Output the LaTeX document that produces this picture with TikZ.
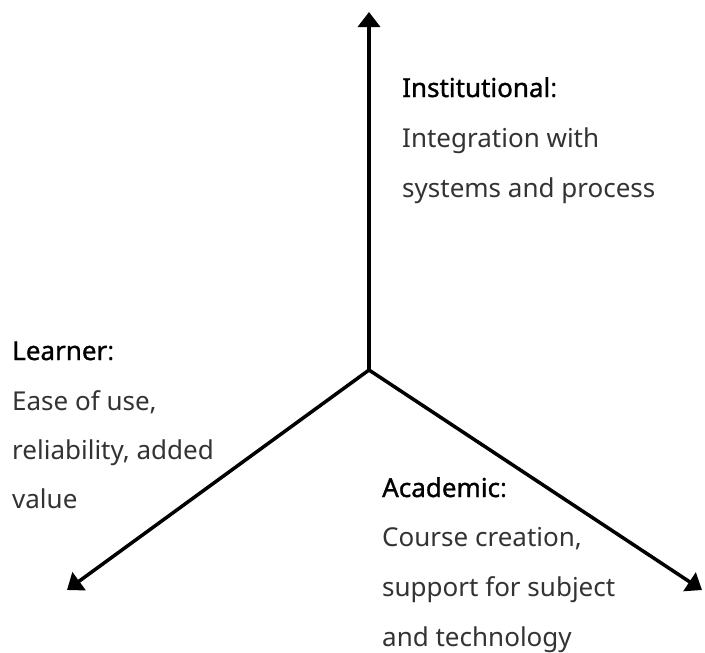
\documentclass[tikz,border=0pt]{standalone}
\usepackage{fontspec}
\setmainfont{Noto Sans}
\newfontfamily\headfont{Noto Sans}[FakeBold=1.2]
\usetikzlibrary{arrows.meta}
\definecolor{bodytext}{HTML}{333333}
\begin{document}
\begin{tikzpicture}[x=1pt,y=1pt,
  axis/.style={line width=3.5pt,-{Triangle[length=15pt,width=22pt]}},
  txt/.style={anchor=base west,inner sep=0pt,text=bodytext,font=\fontsize{26}{30}\selectfont},
  head/.style={anchor=base west,inner sep=0pt,text=black,font=\fontsize{26}{30}\selectfont}]
\useasboundingbox (0,0) rectangle (705,-653);
\coordinate (c) at (369,-370);
\coordinate (top) at (369,-12);
\coordinate (left) at (67,-590);
\coordinate (right) at (702,-590);
\draw[axis] (c) -- (top);
\draw[axis] (c) -- (left);
\draw[axis] (c) -- (right);
% Institutional
\node[head] (i1) at (402,-97) {{\headfont Institutional}:};
\node[txt] (i2) at (402,-147) {Integration with};
\node[txt] (i3) at (402,-197) {systems and process};
% Learner
\node[head] (l1) at (12,-360) {{\headfont Learner}:};
\node[txt] (l2) at (12,-410) {Ease of use,};
\node[txt] (l3) at (12,-459) {reliability, added};
\node[txt] (l4) at (12,-508) {value};
% Academic
\node[head] (a1) at (382,-497) {{\headfont Academic}:};
\node[txt] (a2) at (382,-546) {Course creation,};
\node[txt] (a3) at (382,-596) {support for subject};
\node[txt] (a4) at (382,-646) {and technology};
\end{tikzpicture}
\end{document}
